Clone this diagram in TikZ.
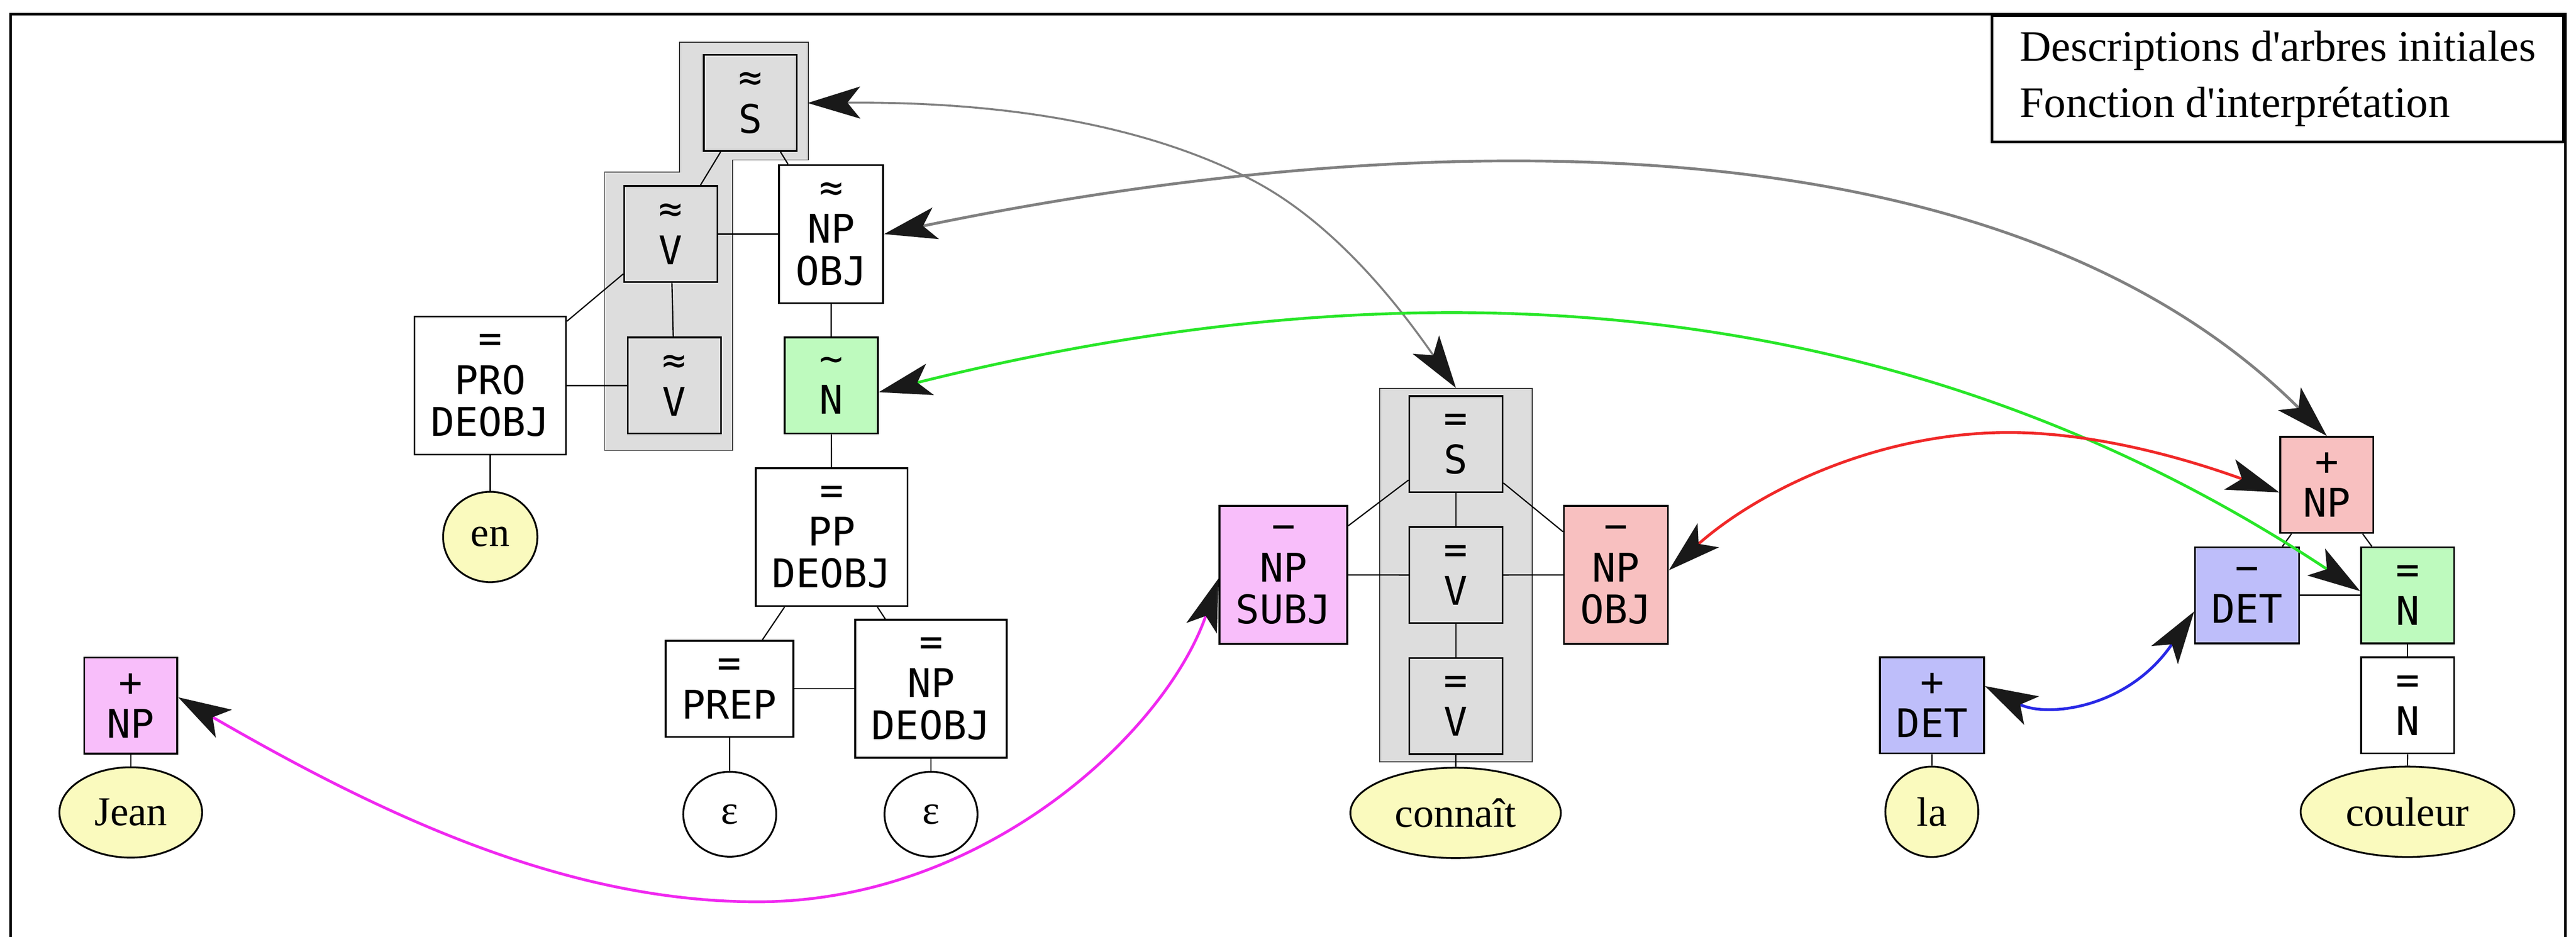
\documentclass[tikz,border=0pt]{standalone}
\usepackage{fontspec}
\setmainfont{Liberation Serif}[Ligatures=TeXOff]
\newfontfamily\boxfam{DejaVu Sans Mono}
\usepackage{tikz}
\usetikzlibrary{shapes.geometric, arrows.meta, fit, backgrounds}
\definecolor{catgray}{RGB}{221,221,221}
\definecolor{catgreen}{RGB}{190,250,190}
\definecolor{catblue}{RGB}{190,190,250}
\definecolor{catpink}{RGB}{248,192,192}
\definecolor{catmagenta}{RGB}{248,190,250}
\definecolor{wordyellow}{RGB}{250,250,190}
\definecolor{linkgray}{RGB}{128,128,128}
\definecolor{linkgreen}{RGB}{40,230,40}
\definecolor{linkred}{RGB}{240,40,40}
\definecolor{linkblue}{RGB}{40,40,230}
\definecolor{linkmagenta}{RGB}{240,40,240}

\begin{document}
\begin{tikzpicture}[
    x=1pt, y=-1pt,
    dartvee/.tip={Stealth[length=32pt, width=19.5pt, inset=7.8pt, color=black!90]},
    catbox/.style={draw, line width=1.1pt, fill=white, minimum width=56.7pt, minimum height=58.5pt, inner xsep=10pt, inner ysep=2pt, align=center, font=\boxfam\fontsize{24}{25.5}\selectfont},
    tallbox/.style={catbox, minimum height=84pt},
    wordnode/.style={ellipse, draw, line width=1.1pt, fill=wordyellow, minimum width=56.6pt, minimum height=55pt, inner xsep=8.5pt, inner ysep=0pt, font=\fontsize{25}{30}\selectfont},
    epsnode/.style={wordnode, fill=white, minimum height=51.7pt},
    branch/.style={line width=0.75pt},
    cluster/.style={draw=black!80, line width=0.5pt, fill=catgray},
    link/.style={dartvee-dartvee, line width=1.7pt}
]
    \useasboundingbox (0,0) rectangle (1568,570.3);

    % Frame and legend
    \draw[line width=1.7pt] (6.5,580) -- (6.5,8.7) -- (1561.5,8.7) -- (1561.5,580);
    \node[draw, line width=1.6pt, anchor=north west, align=left, inner xsep=17pt, inner ysep=9.4pt, font=\fontsize{26.5}{34.1}\selectfont] (legend) at (1211.8,8.7) {Descriptions d'arbres initiales\\Fonction d'interprétation};

    % Left tree
    \path[cluster] (413.6,25.7) -- (492,25.7) -- (492,97.4) -- (445.9,97.4) -- (445.9,274.3) -- (368,274.3) -- (368,104.8) -- (413.6,104.8) -- cycle;
    \node[catbox, fill=catgray] (sS) at (456.7,62.7) {≈\\S};
    \node[catbox, fill=catgray] (vA) at (408.3,142.5) {≈\\V};
    \node[tallbox] (npObj) at (505.9,142.5) {≈\\NP\\OBJ};
    \node[tallbox] (proDe) at (298.4,234.7) {=\\PRO\\DEOBJ};
    \node[catbox, fill=catgray] (vB) at (410.5,234.7) {≈\\V};
    \node[catbox, fill=catgreen] (nTilde) at (506,234.7) {\textasciitilde\\N};
    \node[wordnode] (en) at (298.4,326.9) {en};
    \node[tallbox] (pp) at (506.2,327) {=\\PP\\DEOBJ};
    \node[catbox] (prep) at (444,419.3) {=\\PREP};
    \node[tallbox] (npDe) at (566.7,419.3) {=\\NP\\DEOBJ};
    \node[epsnode] (epsA) at (444.2,495.7) {ε};
    \node[epsnode] (epsB) at (566.7,495.7) {ε};

    \draw[branch] (sS) -- (vA);
    \draw[branch] (sS) -- (npObj);
    \draw[branch] (vA) -- (npObj);
    \draw[branch] (vA) -- (vB);
    \draw[branch] (vA) -- (proDe);
    \draw[branch] (proDe) -- (vB);
    \draw[branch] (proDe) -- (en);
    \draw[branch] (npObj) -- (nTilde);
    \draw[branch] (nTilde) -- (pp);
    \draw[branch] (pp) -- (prep);
    \draw[branch] (pp) -- (npDe);
    \draw[branch] (prep) -- (npDe);
    \draw[branch] (prep) -- (epsA);
    \draw[branch] (npDe) -- (epsB);

    % Jean
    \node[catbox, fill=catmagenta] (npJean) at (79.6,429.6) {+\\NP};
    \node[wordnode] (jean) at (79.6,494.6) {Jean};
    \draw[branch] (npJean) -- (jean);

    % connait
    \node[catbox, fill=catgray] (sMid) at (886.2,270.4) {=\\S};
    \node[catbox, fill=catgray] (vMid) at (886.2,350.1) {=\\V};
    \node[catbox, fill=catgray] (vLow) at (886.2,429.8) {=\\V};
    \begin{scope}[on background layer]
        \node[cluster, fit=(sMid)(vLow), inner xsep=17.5pt, inner ysep=4.2pt] (clMid) {};
    \end{scope}
    \node[tallbox, fill=catmagenta] (npSubj) at (781.2,350) {−\\NP\\SUBJ};
    \node[tallbox, fill=catpink] (npObjM) at (983.6,350) {−\\NP\\OBJ};
    \node[wordnode] (connait) at (886,494.9) {connaît};

    \draw[branch] (sMid) -- (vMid);
    \draw[branch] (vMid) -- (vLow);
    \draw[branch] (vLow) -- (connait);
    \draw[branch] (sMid) -- (npSubj);
    \draw[branch] (sMid) -- (npObjM);
    \draw[branch] (npSubj) -- (vMid);
    \draw[branch] (vMid) -- (npObjM);

    % la couleur
    \node[catbox, fill=catpink] (npPlus) at (1416.3,295.2) {+\\NP};
    \node[catbox, fill=catblue] (detMinus) at (1367.8,362.4) {−\\DET};
    \node[catbox, fill=catgreen] (nGreen) at (1465.5,362.4) {=\\N};
    \node[catbox] (nWhite) at (1465.5,429.4) {=\\N};
    \node[wordnode] (couleur) at (1465.4,494.2) {couleur};
    \node[catbox, fill=catblue] (detPlus) at (1176,429.4) {+\\DET};
    \node[wordnode] (la) at (1175.9,494.2) {la};

    \draw[branch] (npPlus) -- (detMinus);
    \draw[branch] (npPlus) -- (nGreen);
    \draw[branch] (detMinus) -- (nGreen);
    \draw[branch] (nGreen) -- (nWhite);
    \draw[branch] (nWhite) -- (couleur);
    \draw[branch] (detPlus) -- (la);

    % Interpretation links
    \draw[link, linkgray, line width=1.2pt] ([xshift=6pt]sS.east) .. controls (581,62) and (681,68) .. (761,109) .. controls (811,134.6) and (850,184) .. (clMid.north);
    \draw[link, linkgray] (npObj.east) .. controls (800,88) and (1200,50) .. (npPlus.north);
    \draw[link, linkgreen] (nTilde.-8) .. controls (850,160) and (1150,170) .. (nGreen.175);
    \draw[link, linkred] (npObjM.5) .. controls (1070,299) and (1142.6,263.3) .. (1222.6,263.3) .. controls (1282.6,263.3) and (1343,283.7) .. (npPlus.189);
    \draw[link, linkblue] (detPlus.20) .. controls (1245,437) and (1295,432) .. (detMinus.197);
    \draw[link, linkmagenta] (npJean.10) .. controls (227,493) and (341,549) .. (461,549) .. controls (600,549) and (710,445) .. (npSubj.183);
\end{tikzpicture}
\end{document}
